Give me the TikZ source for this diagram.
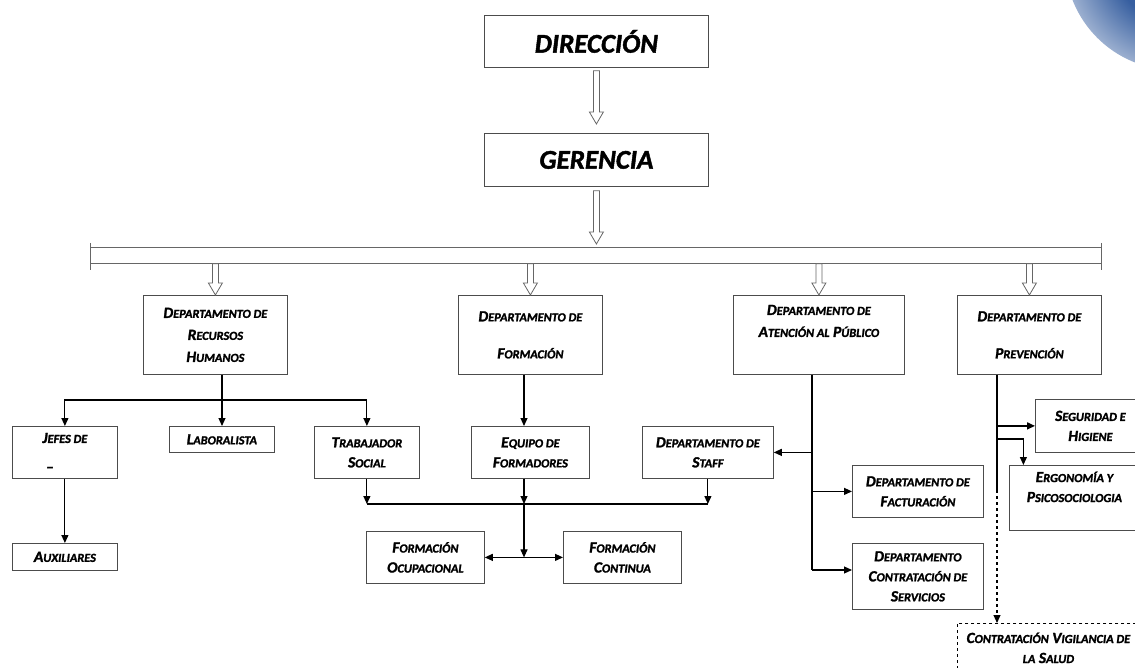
\documentclass[tikz,border=0pt]{standalone}
\usepackage{fontspec}
\setmainfont{Carlito}
\newfontfamily\hfont{Carlito}[FakeBold=1.6]
\usetikzlibrary{arrows.meta,calc}
\newcommand\sm[1]{{\fontsize{12.3}{20}\selectfont #1}}
\newcommand\dfont{\hfont\fontsize{15.5}{20}\selectfont\bfseries\itshape}
\definecolor{cblue}{RGB}{55,95,160}
\pgfdeclareradialshading{blob}{\pgfpointorigin}{color(0bp)=(cblue); color(14bp)=(cblue); color(36bp)=(white); color(50bp)=(white)}
\newcommand\hollow[2]{\draw[hol] let \p1=(#1), \p2=(#2) in (\x1-3pt,\y1) -- (\x1-3pt,\y2+12pt) -- (\x1-7pt,\y2+12pt) -- (\x1,\y2) -- (\x1+7pt,\y2+12pt) -- (\x1+3pt,\y2+12pt) -- (\x1+3pt,\y1) -- cycle;}
\begin{document}
\begin{tikzpicture}[x=1pt,y=-1pt,
 box/.style={draw=black!70, line width=0.8pt, anchor=north west, inner sep=0pt, align=center, font=\dfont},
 title/.style={box, font=\hfont\fontsize{27}{30}\selectfont\bfseries\itshape},
 conn/.style={line width=1.1pt, -{Triangle[length=8pt,width=7pt]}},
 plain/.style={line width=1.1pt},
 hol/.style={draw=black!60, line width=0.8pt, fill=white},
 barst/.style={draw=black!60, line width=0.8pt, anchor=north west, inner sep=0pt},
]
\useasboundingbox (0,0) rectangle (1135,668);
\clip (0,0) rectangle (1135,668);
\shade[shading=blob] (1175,-40) circle (110);

% top
\node[title, minimum width=224, minimum height=52] (dir) at (484,15) {DIRECCIÓN};
\node[title, minimum width=224, minimum height=53] (ger) at (484,133) {GERENCIA};
\node[barst, minimum width=1011, minimum height=16] (bar) at (90,247) {};
\draw[draw=black!60, line width=0.8pt] ([yshift=4pt]bar.north west) -- ([yshift=-6pt]bar.south west);
\draw[draw=black!60, line width=0.8pt] ([yshift=4pt]bar.north east) -- ([yshift=-6pt]bar.south east);

% departments
\node[box, minimum width=144, minimum height=79] (rrhh) at (143,295) {D\sm{EPARTAMENTO DE}\\[2pt]R\sm{ECURSOS}\\[2pt]H\sm{UMANOS}};
\node[box, minimum width=144, minimum height=79] (form) at (458,295) {D\sm{EPARTAMENTO DE}\\[17pt]F\sm{ORMACIÓN}};
\node[box, minimum width=171, minimum height=79] (aten) at (733,295) {D\sm{EPARTAMENTO DE}\\[2pt]A\sm{TENCIÓN AL} P\sm{ÚBLICO}\\[2pt]\strut};
\node[box, minimum width=144, minimum height=79] (prev) at (957,295) {D\sm{EPARTAMENTO DE}\\[17pt]P\sm{REVENCIÓN}};

\hollow{$(dir.south)+(0,3)$}{$(ger.north)+(0,-9)$}
\hollow{$(ger.south)+(0,4)$}{$(bar.north)+(0,-3)$}
\hollow{bar.south -| rrhh.north}{rrhh.north}
\hollow{bar.south -| form.north}{form.north}
\hollow{bar.south -| aten.north}{aten.north}
\hollow{bar.south -| prev.north}{prev.north}

% second level
\node[box, minimum width=105, minimum height=52] (jefes) at (12,426) {J\sm{EFES DE}\\[9pt]–\kern30pt};
\node[box, minimum width=105, minimum height=26] (labor) at (169,426) {L\sm{ABORALISTA}};
\node[box, minimum width=105, minimum height=52] (trab) at (314,426) {T\sm{RABAJADOR}\\S\sm{OCIAL}};
\node[box, minimum width=105, minimum height=27] (aux) at (12,543) {A\sm{UXILIARES}};
\node[box, minimum width=118, minimum height=52] (equipo) at (471,426) {E\sm{QUIPO DE}\\F\sm{ORMADORES}};
\node[box, minimum width=131, minimum height=52] (staff) at (642,426) {D\sm{EPARTAMENTO DE}\\S\sm{TAFF}};
\node[box, minimum width=118, minimum height=52] (ocup) at (366,531) {F\sm{ORMACIÓN}\\O\sm{CUPACIONAL}};
\node[box, minimum width=118, minimum height=52] (cont) at (563,531) {F\sm{ORMACIÓN}\\C\sm{ONTINUA}};
\node[box, minimum width=131, minimum height=52] (fact) at (852,465) {D\sm{EPARTAMENTO DE}\\F\sm{ACTURACIÓN}};
\node[box, minimum width=131, minimum height=66] (contr) at (852,543) {D\sm{EPARTAMENTO}\\C\sm{ONTRATACIÓN DE}\\S\sm{ERVICIOS}};
\node[box, minimum width=110, minimum height=53] (seg) at (1035,399) {S\sm{EGURIDAD E}\\H\sm{IGIENE}};
\node[box, minimum width=130, minimum height=65] (ergo) at (1009,465) {E\sm{RGONOMÍA Y}\\P\sm{SICOSOCIOLOGIA}\\[-4pt]\strut};
\node[box, dashed, draw=black, minimum width=182, minimum height=49] (vig) at (957,623) {C\sm{ONTRATACIÓN} V\sm{IGILANCIA DE}\\\sm{LA} S\sm{ALUD}};

% RRHH connectors
\coordinate (rrj) at (222,400);
\draw[plain] (rrhh.south -| rrj) -- (rrj);
\draw[conn] (rrj) -| (jefes.north);
\draw[conn] (rrj) -- (rrj |- labor.north);
\draw[conn] (rrj) -| (trab.north);
\draw[conn] (jefes.south) -- (aux.north);

% Formacion connectors
\coordinate (conv) at (524,504);
\draw[conn] (form.south -| conv) -- (equipo.north -| conv);
\draw[conn] (trab.south) -- (trab.south |- conv);
\draw[conn] (equipo.south -| conv) -- (conv);
\draw[conn] (staff.south) -- (staff.south |- conv);
\draw[line width=1.7pt] (trab.south |- conv) -- (staff.south |- conv);
\draw[conn] (conv) -- (conv |- ocup.east);
\draw[line width=1.1pt, {Triangle[length=8pt,width=7pt]}-{Triangle[length=8pt,width=7pt]}] (ocup.east) -- (cont.west);

% Atencion connectors
\coordinate (ax) at (812,570);
\draw[plain] (aten.south -| ax) -- (ax);
\draw[conn] (staff.east -| ax) -- (staff.east);
\draw[conn] (fact.west -| ax) -- (fact.west);
\draw[conn] (ax) -- (ax -| contr.west);

% Prevencion connectors
\coordinate (px) at (997,490);
\coordinate (pe) at (997,439);
\draw[plain] (prev.south -| px) -- (px);
\draw[conn, dashed] (px) -- (px |- vig.north);
\draw[conn, line width=1.6pt] (seg.west -| px) -- (seg.west);
\draw[conn] (pe) -| ([xshift=-51pt]ergo.north);
\end{tikzpicture}
\end{document}
